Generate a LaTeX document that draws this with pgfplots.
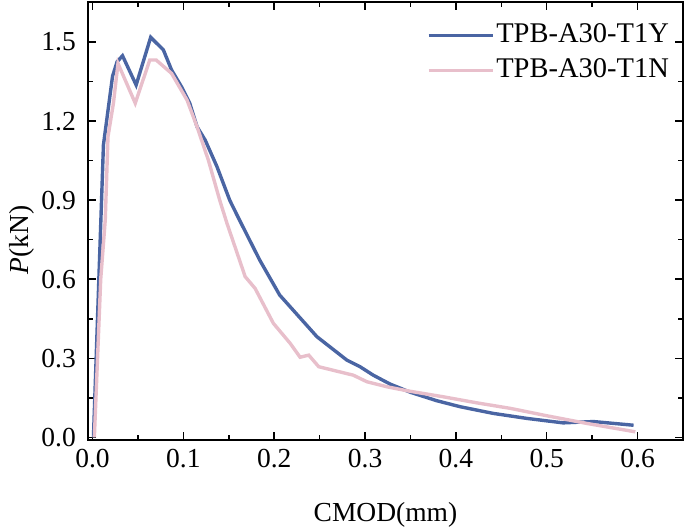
\documentclass[border=0pt]{standalone}
\usepackage{fontspec}
\setmainfont{Liberation Serif}
\usepackage{pgfplots}
\pgfplotsset{compat=1.18}
\definecolor{cblue}{HTML}{4A65A3}
\definecolor{cpink}{HTML}{E8BFCB}
\begin{document}
\fontsize{27bp}{32bp}\selectfont
\begin{tikzpicture}
\begin{axis}[
  name=ax,
  scale only axis,
  width=595bp, height=438bp,
  xmin=-0.005, xmax=0.65,
  ymin=-0.01, ymax=1.652,
  xtick={0,0.1,0.2,0.3,0.4,0.5,0.6},
  ytick={0,0.3,0.6,0.9,1.2,1.5},
  minor x tick num=1,
  minor y tick num=1,
  tick align=inside,
  major tick length=8bp,
  minor tick length=5bp,
  axis line style={line width=1.5bp},
  every tick/.style={black,line width=1.5bp},
  /pgf/number format/assume math mode=true,
  /pgf/number format/.cd, fixed, fixed zerofill, precision=1, /pgfplots/.cd,
  tick label style={font=\fontsize{27.5bp}{32bp}\selectfont},
  yticklabel style={xshift=-3bp},
  label style={font=\fontsize{27.5bp}{32bp}\selectfont},
  xlabel={CMOD(mm)},
  ylabel={\textit{P}(kN)},
  xlabel style={at={(axis description cs:0.5,-0.171)},anchor=center},
  ylabel style={at={(axis description cs:-0.111,0.457)},anchor=center},
  legend style={draw=none,fill=none,at={(0.985,0.96)},anchor=north east,
    font=\fontsize{28.5bp}{34bp}\selectfont, row sep=8bp},
  legend cell align=left,
  legend image code/.code={\draw[#1,line width=3.2bp] (0bp,0bp) -- (64bp,0bp);},
]
\addplot[cblue, line width=3.4bp] coordinates {
(0.001,0.0)
(0.012,1.11)
(0.022,1.37)
(0.027,1.425)
(0.033,1.448)
(0.048,1.337)
(0.064,1.518)
(0.078,1.47)
(0.087,1.394)
(0.098,1.33)
(0.107,1.268)
(0.115,1.179)
(0.124,1.128)
(0.137,1.027)
(0.151,0.90)
(0.161,0.83)
(0.184,0.673)
(0.206,0.54)
(0.247,0.382)
(0.280,0.293)
(0.2945,0.268)
(0.309,0.236)
(0.3277,0.202)
(0.350,0.171)
(0.379,0.139)
(0.405,0.116)
(0.441,0.091)
(0.478,0.072)
(0.518,0.055)
(0.5515,0.060)
(0.5956,0.046)
};
\addlegendentry{TPB-A30-T1Y}
\addplot[cpink, line width=3.4bp] coordinates {
(0.002,0.0)
(0.009,0.6)
(0.014,0.825)
(0.017,1.141)
(0.023,1.268)
(0.028,1.419)
(0.047,1.268)
(0.063,1.432)
(0.070,1.432)
(0.087,1.381)
(0.104,1.28)
(0.115,1.179)
(0.1275,1.052)
(0.140,0.90)
(0.148,0.812)
(0.168,0.61)
(0.179,0.565)
(0.199,0.433)
(0.2175,0.357)
(0.2285,0.304)
(0.238,0.312)
(0.249,0.268)
(0.287,0.236)
(0.302,0.211)
(0.324,0.192)
(0.346,0.177)
(0.386,0.154)
(0.423,0.131)
(0.46,0.110)
(0.500,0.082)
(0.544,0.053)
(0.5975,0.021)
};
\addlegendentry{TPB-A30-T1N}
\end{axis}
\pgfresetboundingbox
\path[use as bounding box] ([xshift=-88bp,yshift=-90bp]ax.south west) rectangle ([xshift=2bp,yshift=2bp]ax.north east);
\end{tikzpicture}
\end{document}
